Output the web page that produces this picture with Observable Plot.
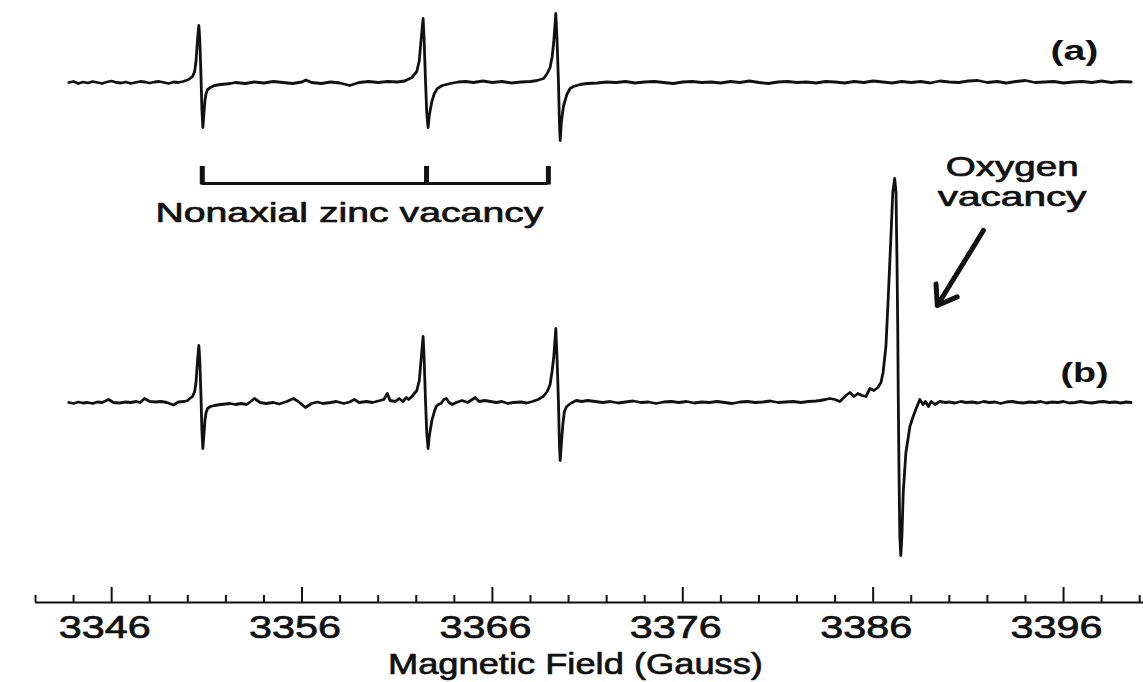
<!DOCTYPE html>
<html>
<head>
<meta charset="utf-8">
<script src="https://cdn.jsdelivr.net/npm/d3@7"></script>
<script src="https://cdn.jsdelivr.net/npm/@observablehq/plot@0.6"></script>
<style>
  html, body { margin: 0; padding: 0; background: #fff; }
  #chart svg { display: block; }
</style>
</head>
<body>
<div id="chart"></div>
<script>
// ---- Data (field in Gauss, signal deflection in arbitrary units) ----
const traceA = [
  [3343.75,0],[3344.0,1],[3344.25,-1],[3344.5,0.5],[3344.75,-0.5],[3345.0,1],[3345.25,0],[3345.5,-1],[3345.75,0.5],[3346.0,1.5],
  [3346.25,0],[3346.5,-0.5],[3346.75,0.5],[3347.0,-1],[3347.25,0],[3347.5,1],[3347.75,0.5],[3348.0,-0.5],[3348.25,0.5],[3348.5,1],
  [3348.75,0],[3349.0,-1],[3349.25,0.5],[3349.5,0],[3349.75,1],[3349.9,2],
  [3350.04,3],[3350.25,6],[3350.36,11],[3350.43,21],[3350.51,43],[3350.58,57],[3350.63,43],[3350.69,8],[3350.74,-27],[3350.79,-45],
  [3350.84,-33],[3350.90,-18],[3350.96,-11],[3351.04,-7],[3351.19,-5],[3351.40,-3],[3351.72,-2],[3352.0,-1.5],[3352.24,-1],
  [3352.5,0],[3353.0,-1],[3353.5,0.5],[3354.0,-0.5],[3354.5,1],[3355.0,0],[3355.5,-1],[3356.0,0.5],[3356.2,2.5],[3356.5,0],
  [3357.0,-1],[3357.5,0.5],[3358.0,-0.5],[3358.5,-3],[3359.0,0],[3359.5,1],[3360.0,0],[3360.5,1],[3361.0,0.5],[3361.4,1.5],
  [3361.77,5],[3362.03,11],[3362.16,22],[3362.24,40],[3362.36,64],[3362.41,45],[3362.48,5],[3362.55,-30],[3362.62,-45],[3362.69,-32],
  [3362.82,-19],[3362.95,-11],[3363.11,-6],[3363.37,-3],[3363.79,-1],
  [3364.2,0.5],[3364.6,1],[3365.0,0],[3365.5,1.5],[3366.0,0],[3366.5,1],[3367.0,-0.5],[3367.5,0.5],[3368.0,1],[3368.35,2],
  [3368.69,4],[3368.88,9],[3369.03,15],[3369.14,26],[3369.22,40],[3369.33,69],[3369.40,40],[3369.47,0],[3369.52,-40],[3369.56,-58],
  [3369.62,-40],[3369.73,-24],[3369.91,-12],[3370.08,-6],[3370.26,-4],[3370.61,-2],[3370.98,-1],
  [3371.5,-0.5],[3372.0,0.5],[3372.5,0],[3373.0,1],[3373.5,-0.5],[3374.0,0.5],[3374.5,1],[3375.0,0],[3375.5,-1],[3376.0,0.5],
  [3376.5,1],[3377.0,0],[3377.5,0.5],[3378.0,-0.5],[3378.5,1],[3379.0,0],[3379.5,1.5],[3380.0,0],[3380.5,-1],[3381.0,0.5],
  [3381.5,1],[3382.0,0],[3382.5,0.5],[3383.0,-0.5],[3383.5,1],[3384.0,0.5],[3384.5,-0.5],[3385.0,1],[3385.5,0],[3386.0,1.5],
  [3386.5,0.5],[3387.0,-0.5],[3387.5,1],[3388.0,0],[3388.5,1],[3389.0,-0.5],[3389.5,1.5],[3390.0,0.5],[3390.5,0],[3391.0,1.5],
  [3391.5,2],[3392.0,0],[3392.5,1],[3393.0,-0.5],[3393.5,1],[3394.0,2],[3394.5,0],[3395.0,0.5],[3395.5,1],[3396.0,-0.5],
  [3396.5,0.5],[3397.0,1],[3397.5,0],[3398.0,1.5],[3398.5,0],[3399.0,1],[3399.55,0.5]
];

const traceB = [
  [3343.75,0],[3344.0,-1],[3344.25,0.5],[3344.5,-0.5],[3344.75,0],[3345.0,-1],[3345.25,0.5],[3345.5,0],[3345.84,3],[3346.1,0],
  [3346.4,-0.5],[3346.75,0.5],[3347.0,0],[3347.3,1],[3347.5,0],[3347.73,4],[3348.0,1],[3348.3,0.5],[3348.6,1],[3348.9,0],
  [3349.25,-2.5],[3349.5,0.5],[3349.8,1],[3350.0,2],
  [3350.04,3],[3350.25,6],[3350.36,11],[3350.43,20],[3350.51,42],[3350.58,57],[3350.63,42],[3350.69,8],[3350.74,-28],[3350.79,-46],
  [3350.84,-34],[3350.90,-18],[3350.96,-10],[3351.04,-6],[3351.19,-4],[3351.40,-3],[3351.72,-2],[3352.24,-1],
  [3352.5,-2],[3352.8,-1],[3353.1,-2],[3353.5,4],[3353.8,0],[3354.1,-1],[3354.5,0],[3354.8,-1.5],[3355.2,1],[3355.55,4],
  [3355.8,1],[3356.18,-5],[3356.5,-1],[3356.8,0.5],[3357.1,-1],[3357.5,0],[3357.8,1],[3358.2,-1],[3358.5,0.5],[3358.75,3],
  [3359.0,0],[3359.4,1],[3359.7,0],[3360.0,1.5],[3360.3,3],[3360.48,9],[3360.62,2],[3360.9,1],[3361.1,4],[3361.3,1],
  [3361.48,5],[3361.6,3],
  [3361.77,6],[3362.03,12],[3362.16,22],[3362.24,40],[3362.36,66],[3362.41,46],[3362.48,5],[3362.55,-30],[3362.62,-46],[3362.69,-33],
  [3362.82,-18],[3362.95,-9],[3363.05,-4],[3363.16,-2],[3363.3,-1],[3363.45,3],[3363.58,4],[3363.72,0],[3363.89,-2],[3364.1,0],
  [3364.4,2],[3364.7,0],[3365.1,5],[3365.3,1],[3365.6,2],[3365.9,1],[3366.2,0],[3366.5,1],[3366.8,-1],[3367.1,0],
  [3367.5,0.5],[3367.8,-0.5],[3368.1,1],[3368.4,3],
  [3368.67,6],[3368.88,11],[3369.03,18],[3369.14,32],[3369.22,45],[3369.33,74],[3369.40,42],[3369.47,0],[3369.52,-42],[3369.56,-58],
  [3369.62,-42],[3369.70,-22],[3369.78,-9],[3369.9,-4],[3370.1,-1],[3370.4,2],[3370.7,1],[3371.0,2],[3371.4,1],
  [3371.8,0],[3372.2,1],[3372.6,-0.5],[3373.0,0.5],[3373.4,1.5],[3373.8,0],[3374.2,0.5],[3374.6,-1],[3375.0,0.5],[3375.4,1],
  [3375.8,0],[3376.2,1],[3376.6,-0.5],[3377.0,0.5],[3377.4,0],[3377.8,1],[3378.2,0],[3378.6,-1],[3379.0,0.5],[3379.4,1],
  [3379.8,0],[3380.2,0.5],[3380.6,1.5],[3381.0,0],[3381.4,0.5],[3381.8,1],[3382.2,0],[3382.6,1],[3383.0,1.5],
  [3383.2,2],[3383.5,3],[3383.72,4],[3383.99,3],[3384.25,1],[3384.57,7],[3384.78,10],[3384.99,6],[3385.20,9],[3385.41,7],
  [3385.62,6],[3385.83,14],[3386.04,12],[3386.25,15],[3386.41,20],[3386.52,30],[3386.67,56],[3386.78,100],[3386.92,160],[3387.03,210],
  [3387.13,224],[3387.20,210],[3387.25,143],[3387.29,76],[3387.32,3],[3387.36,-74],[3387.40,-134],[3387.45,-153],[3387.51,-134],[3387.58,-90],
  [3387.72,-50],[3387.93,-24],[3388.10,-14],[3388.28,-5],[3388.45,3],[3388.62,-2],[3388.75,1],[3388.90,-4],[3389.05,1],[3389.25,-2],
  [3389.5,1],[3389.8,0],
  [3390.0,0.5],[3390.3,-0.5],[3390.6,1],[3390.9,0],[3391.2,0.5],[3391.5,-0.5],[3391.8,1],[3392.1,0],[3392.4,0.5],[3392.7,-1],
  [3393.0,0.5],[3393.3,1],[3393.6,0],[3393.9,-0.5],[3394.2,0.5],[3394.5,0],[3394.8,1],[3395.1,-0.5],[3395.4,0.5],[3395.7,0],
  [3396.0,1],[3396.3,-0.5],[3396.6,0],[3396.9,1],[3397.2,0],[3397.5,-0.5],[3397.8,0.5],[3398.1,1],[3398.4,0],[3398.7,0.5],
  [3399.0,-0.5],[3399.3,0.5],[3399.55,0]
];

const majorTicks = [3346, 3356, 3366, 3376, 3386, 3396];
const tickLabels = ["3346", "3356", "3366", "3376", "3386", "3396"];
const minorTicks = [3342, 3344, 3348, 3350, 3352, 3354, 3358, 3360, 3362, 3364, 3368, 3370, 3372, 3374,
                    3378, 3380, 3382, 3384, 3388, 3390, 3392, 3394, 3398, 3400];
const xTitle = "Magnetic Field (Gauss)";

// bracket marking the three nonaxial zinc vacancy lines
const bracketFields = [3350.76, 3362.54, 3368.94];

// annotations: text, field, level
const noteText  = ["Nonaxial zinc vacancy", "Oxygen", "vacancy"];
const noteField = [3358.49, 3393.3, 3393.3];
const noteLevel = [381, 427, 397];
const traceLabels = ["(a)", "(b)"];
const traceLabelField = [3396.57, 3397.1];
const traceLabelLevel = [551, 229];
const arrowFrom = [3391.79, 372];
const arrowTo = [3389.37, 297];

// ---- layout constants (vertical offsets of the stacked spectra, tick lengths) ----
const OFFSET_A = 520, OFFSET_B = 200;
const BRACKET_LEVEL = 419, BRACKET_TOP = 436;
const MAJOR_LEN = 15, MINOR_LEN = 7;

const plot = Plot.plot({
  width: 1143,
  height: 682,
  marginLeft: 35,
  marginRight: 0,
  marginTop: 0,
  marginBottom: 80,
  style: { fontFamily: "'Liberation Sans', Arial, sans-serif", background: "#fff", color: "#111" },
  x: { domain: [3342, 3400.2], axis: null },
  y: { domain: [0, 602], axis: null },
  marks: [
    // spectra
    Plot.line(traceA, { x: d => d[0], y: d => d[1] + OFFSET_A, stroke: "#111", strokeWidth: 2.8, strokeLinejoin: "round" }),
    Plot.line(traceB, { x: d => d[0], y: d => d[1] + OFFSET_B, stroke: "#111", strokeWidth: 2.8, strokeLinejoin: "round" }),
    // bracket
    Plot.ruleY([BRACKET_LEVEL], { x1: bracketFields[0], x2: bracketFields[bracketFields.length - 1], stroke: "#111", strokeWidth: 3 }),
    Plot.ruleX(bracketFields, { y1: BRACKET_LEVEL - 1.5, y2: BRACKET_TOP, stroke: "#111", strokeWidth: 5 }),
    // annotations
    Plot.text(noteText, { x: (d, i) => noteField[i], y: (d, i) => noteLevel[i], text: d => d,
      fontSize: 28, lineAnchor: "bottom", fill: "#111", stroke: "#111", strokeWidth: 0.7 }),
    Plot.text(traceLabels, { x: (d, i) => traceLabelField[i], y: (d, i) => traceLabelLevel[i], text: d => d,
      fontSize: 27, fontWeight: "bold", lineAnchor: "middle", fill: "#111" }),
    Plot.arrow([0], { x1: arrowFrom[0], y1: arrowFrom[1], x2: arrowTo[0], y2: arrowTo[1],
      stroke: "#111", strokeWidth: 5, headLength: 6.5, headAngle: 70 }),
    // x axis: baseline, inward ticks, labels, title
    Plot.ruleY([0], { stroke: "#111", strokeWidth: 2 }),
    Plot.ruleX(majorTicks, { y1: 0, y2: MAJOR_LEN, stroke: "#111", strokeWidth: 2 }),
    Plot.ruleX(minorTicks, { y1: 0, y2: MINOR_LEN, stroke: "#111", strokeWidth: 2 }),
    Plot.axisX(majorTicks, { anchor: "bottom", tickSize: 0, tickPadding: 13, dx: -7, fontSize: 32, label: null,
      textStroke: "#111", textStrokeWidth: 0.7,
      tickFormat: (d, i) => tickLabels[majorTicks.indexOf(d)] }),
    Plot.text([xTitle], { x: 3370.36, frameAnchor: "bottom", dy: 71, lineAnchor: "bottom", fontSize: 30,
      fill: "#111", stroke: "#111", strokeWidth: 0.7 })
  ]
});

// The original lettering is horizontally stretched; reproduce via textLength.
const stretch = new Map([
  ["Nonaxial zinc vacancy", 388], ["Oxygen", 133], ["vacancy", 149],
  ["(a)", 48], ["(b)", 48], [xTitle, 375]
]);
tickLabels.forEach(t => stretch.set(t, 92));
plot.querySelectorAll("text").forEach(t => {
  const s = t.textContent;
  if (stretch.has(s) && t.children.length === 0) {
    t.setAttribute("textLength", stretch.get(s));
    t.setAttribute("lengthAdjust", "spacingAndGlyphs");
  }
});

document.getElementById("chart").appendChild(plot);
</script>
</body>
</html>
